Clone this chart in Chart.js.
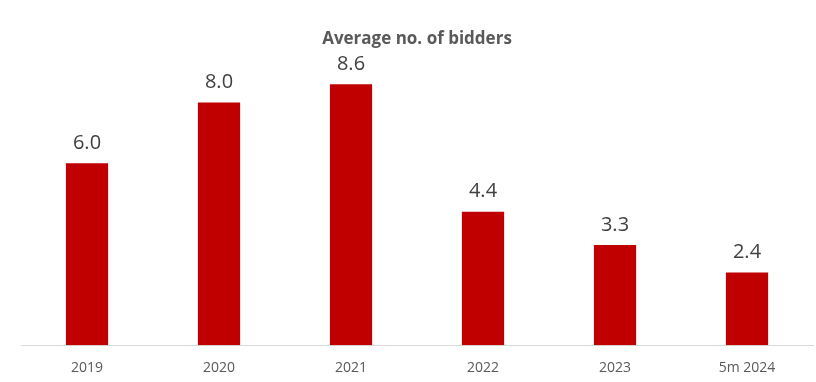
<!DOCTYPE html>
<html>
<head>
<meta charset="utf-8">
<script src="https://cdn.jsdelivr.net/npm/chart.js@4"></script>
<style>
html,body{margin:0;padding:0;background:#fff;}
#wrap{width:816px;height:382px;}
</style>
</head>
<body>
<div id="wrap"><canvas id="c" width="816" height="382"></canvas></div>
<script>
const categories = ["2019", "2020", "2021", "2022", "2023", "5m 2024"];
const bidders = [6.0, 8.0, 8.6, 4.4, 3.3, 2.4];
const chartTitle = "Average no. of bidders";

const valueLabels = {
  id: 'valueLabels',
  afterDatasetsDraw(chart) {
    const ctx = chart.ctx;
    const meta = chart.getDatasetMeta(0);
    ctx.save();
    ctx.font = '20px "Open Sans", "Liberation Sans", sans-serif';
    ctx.fillStyle = '#404040';
    ctx.textAlign = 'center';
    ctx.textBaseline = 'middle';
    meta.data.forEach((bar, i) => {
      ctx.fillText(bidders[i].toFixed(1), bar.x, bar.y - 20);
    });
    ctx.restore();
  }
};

new Chart(document.getElementById('c'), {
  type: 'bar',
  data: {
    labels: categories,
    datasets: [{
      data: bidders,
      backgroundColor: '#C00000',
      barPercentage: 0.32,
      categoryPercentage: 1.0
    }]
  },
  options: {
    responsive: false,
    animation: false,
    layout: { padding: { left: 21, right: 3, top: 0, bottom: -8 } },
    plugins: {
      legend: { display: false },
      tooltip: { enabled: false },
      title: {
        display: true,
        text: chartTitle,
        color: '#595959',
        font: { family: '"Open Sans", "Liberation Sans", sans-serif', size: 17, weight: 'bold' },
        padding: { top: 29, bottom: 0 }
      }
    },
    scales: {
      x: {
        grid: { display: false, drawTicks: false },
        border: { display: true, color: '#d9d9d9', width: 1 },
        ticks: {
          color: '#595959',
          padding: 14,
          font: { family: '"Open Sans", "Liberation Sans", sans-serif', size: 14 }
        }
      },
      y: {
        display: false,
        min: 0,
        max: 9.75
      }
    }
  },
  plugins: [valueLabels]
});
</script>
</body>
</html>
